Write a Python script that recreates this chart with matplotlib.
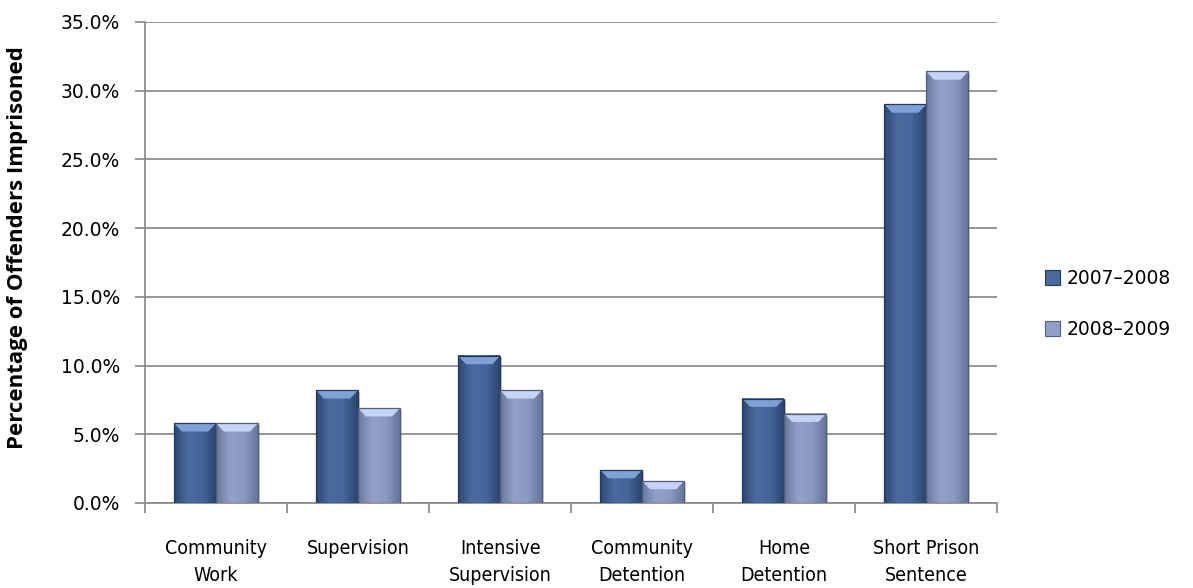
import numpy as np
import matplotlib
matplotlib.use('Agg')
from matplotlib import pyplot as plt
from matplotlib.colors import LinearSegmentedColormap
from matplotlib.patches import Polygon, Rectangle, Patch
from matplotlib.ticker import FuncFormatter, MultipleLocator, FixedLocator

categories = ['Community\nWork', 'Supervision', 'Intensive\nSupervision',
              'Community\nDetention', 'Home\nDetention', 'Short Prison\nSentence']
series_names = ['2007\u20132008', '2008\u20132009']
rate_2007 = [5.8, 8.2, 10.7, 2.4, 7.6, 29.0]
rate_2008 = [5.8, 6.9, 8.2, 1.6, 6.5, 31.4]

# body gradient (left -> right), bevel colour, outline
styles = [
    dict(body=['#2e4873', '#4b6b9f', '#46669b', '#2c456e'], top='#7fa1da', edge='#22375a'),
    dict(body=['#6c799e', '#929fc7', '#8c9ac1', '#68759c'], top='#c6d3f4', edge='#525e80'),
]

bar_w = 0.295
bevel_x = 0.055
bevel_y = 0.6
grid_color = '#8e8e8e'


def drawBar(ax, x0, h, style):
    # soft drop shadow
    ax.add_patch(Rectangle((x0 + 0.012, -0.15), bar_w, h, facecolor='#000000',
                           alpha=0.18, edgecolor='none', zorder=2.5))
    cmap = LinearSegmentedColormap.from_list('bar', style['body'])
    grad = np.linspace(0, 1, 64).reshape(1, -1)
    ax.imshow(grad, cmap=cmap, extent=[x0, x0 + bar_w, 0, h], aspect='auto',
              interpolation='bicubic', zorder=3)
    bevel = Polygon([(x0, h), (x0 + bar_w, h), (x0 + bar_w - bevel_x, h - bevel_y),
                     (x0 + bevel_x, h - bevel_y)], closed=True,
                    facecolor=style['top'], edgecolor='none', zorder=4)
    ax.add_patch(bevel)
    ax.add_patch(Rectangle((x0, 0), bar_w, h, fill=False, edgecolor=style['edge'],
                           lw=0.9, zorder=5))


fig = plt.figure(figsize=(11.93, 5.88), dpi=100)
ax = fig.add_axes([0.1215, 0.1446, 0.7145, 0.818])

for i in range(len(categories)):
    centre = i + 0.5
    drawBar(ax, centre - bar_w, rate_2007[i], styles[0])
    drawBar(ax, centre, rate_2008[i], styles[1])

ax.set_xlim(0, len(categories))
ax.set_ylim(0, 35)

ax.yaxis.set_major_locator(MultipleLocator(5))
ax.yaxis.set_major_formatter(FuncFormatter(lambda v, p: '%.1f%%' % v))
ax.grid(axis='y', color=grid_color, lw=1.3, zorder=1)
ax.set_axisbelow(True)

ax.xaxis.set_major_locator(FixedLocator(np.arange(len(categories) + 1)))
ax.xaxis.set_major_formatter(FuncFormatter(lambda v, p: ''))
ax.xaxis.set_minor_locator(FixedLocator(np.arange(len(categories)) + 0.5))
ax.set_xticklabels(categories, minor=True)
ax.tick_params(axis='x', which='minor', length=0, pad=26, labelsize=14)
ax.tick_params(axis='x', which='major', length=7, width=1.3, color=grid_color)
ax.tick_params(axis='y', length=7, width=1.3, color=grid_color, labelsize=13.5,
               pad=11)
for lbl in ax.get_xticklabels(minor=True):
    lbl.set_linespacing(1.55)
    lbl.set_family('DejaVu Sans')
    lbl.set_stretch('condensed')

for side in ['top', 'right']:
    ax.spines[side].set_visible(False)
for side in ['left', 'bottom']:
    ax.spines[side].set_color(grid_color)
    ax.spines[side].set_linewidth(1.3)

ax.set_ylabel('Percentage of Offenders Imprisoned', fontsize=16,
              fontweight='bold', family=['Open Sans', 'DejaVu Sans'])
ax.yaxis.set_label_coords(-0.137, 0.531)

handles = [Patch(facecolor=s['body'][1], edgecolor=s['edge'], lw=0.8) for s in styles]
fig.legend(handles, series_names, loc='center left', bbox_to_anchor=(0.862, 0.483),
           frameon=False, fontsize=13.5, handlelength=0.8, handleheight=0.8,
           handletextpad=0.35, labelspacing=1.7)

fig.savefig('out.png', dpi=100)
